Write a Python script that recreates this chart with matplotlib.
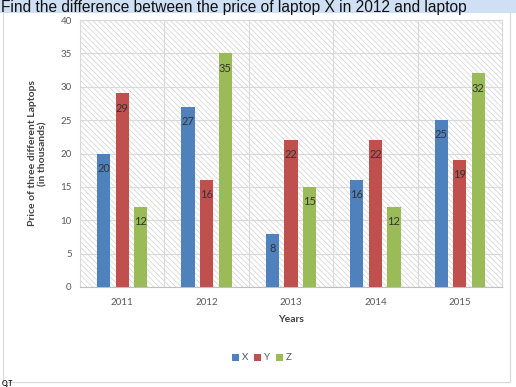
import matplotlib
matplotlib.use("Agg")
import matplotlib.pyplot as plt
import numpy as np
from matplotlib.patches import Rectangle

years = ["2011", "2012", "2013", "2014", "2015"]
x_vals = [20, 27, 8, 16, 25]
y_vals = [29, 16, 22, 22, 19]
z_vals = [12, 35, 15, 12, 32]
series_names = ["X", "Y", "Z"]
colors = ["#4F81BD", "#C0504D", "#9BBB59"]

plt.rcParams['font.family'] = ['Lato', 'DejaVu Sans']
plt.rcParams['hatch.linewidth'] = 0.5
plt.rcParams['hatch.color'] = '#d0d0d0'

fig = plt.figure(figsize=(5.16, 3.87), dpi=100)
ax = fig.add_axes([80/516, 100/387, 422/516, 267/387])

# outer chart frame
fig.patches.append(Rectangle((3/516, 5/387), 507/516, 371/387, transform=fig.transFigure,
                             fill=False, edgecolor='#d9d9d9', linewidth=0.8))

# top question banner
fig.patches.append(Rectangle((0, 374/387), 1, 13/387, transform=fig.transFigure,
                             facecolor='#cfe0f5', edgecolor='none'))
fig.text(0.002, 0.999, "Find the difference between the price of laptop X in 2012 and laptop",
         ha='left', va='top', fontsize=11.2, color='#111111',
         family=['Arial', 'Liberation Sans', 'DejaVu Sans'])
fig.text(0.004, 0.001, "Q.T", ha='left', va='bottom', fontsize=5, color='#111111', fontweight='bold')

# hatched background
ax.set_facecolor('white')
ax.add_patch(Rectangle((0, 0), 1, 1, transform=ax.transAxes, facecolor='white',
                       hatch='\\\\\\\\\\\\', edgecolor='#d0d0d0', linewidth=0, zorder=0))

n = len(years)
idx = np.arange(n)
width = 0.155
offsets = [-0.22, 0, 0.22]
data = [x_vals, y_vals, z_vals]
for vals, c, off, name in zip(data, colors, offsets, series_names):
    ax.bar(idx + off, vals, width, color=c, label=name, zorder=3)
    for xi, v in zip(idx + off, vals):
        ax.text(xi, v - 2.2, str(v), ha='center', va='center', fontsize=8,
                color='#333333', zorder=4)

ax.set_xlim(-0.5, n - 0.5)
ax.set_ylim(0, 40)
ax.set_yticks(range(0, 41, 5))
ax.set_xticks(idx)
ax.set_xticklabels(years)
ax.tick_params(axis='both', length=0, labelsize=7, colors='#595959', pad=6)
ax.tick_params(axis='x', pad=8)

ax.grid(axis='y', color='#d9d9d9', linewidth=0.8, zorder=1)
for b in np.arange(0.5, n - 0.5, 1):
    ax.axvline(b, color='#d9d9d9', linewidth=0.8, zorder=1)
for sp in ['top', 'right', 'left']:
    ax.spines[sp].set_color('#d9d9d9')
    ax.spines[sp].set_linewidth(0.8)
ax.spines['bottom'].set_color('#bfbfbf')
ax.set_axisbelow(True)

ax.set_ylabel("Price of three different Laptops\n(in thousands)", fontsize=7.5,
              fontweight='bold', color='#404040', labelpad=9)
ax.set_xlabel("Years", fontsize=7.5, fontweight='bold', color='#404040', labelpad=6)

fig.legend(loc='center', bbox_to_anchor=(262/516, 1 - 358/387), ncol=3, frameon=False,
           fontsize=7, handlelength=0.7, handleheight=0.7, handletextpad=0.3,
           columnspacing=0.6, labelcolor='#595959')

fig.savefig("out.png", dpi=100)
